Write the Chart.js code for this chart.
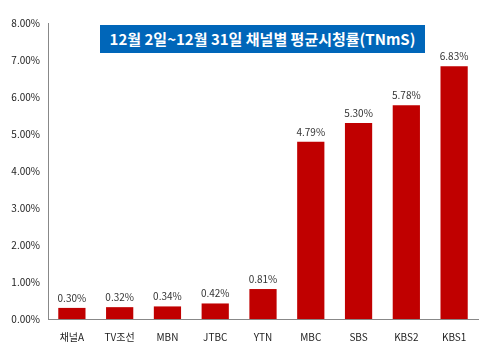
<!DOCTYPE html>
<html>
<head>
<meta charset="utf-8">
<script src="https://cdn.jsdelivr.net/npm/chart.js@4"></script>
<style>
  body { margin: 0; background: #fff; }
  #wrap { position: relative; width: 491px; height: 354px; }
  #title {
    position: absolute; left: 100px; top: 25px; width: 325px; height: 28px;
    background: #0066b9; color: #fff; font: bold 15px "Noto Sans CJK KR", sans-serif;
    line-height: 28px; text-align: center; box-sizing: border-box;
  }
</style>
</head>
<body>
<div id="wrap">
  <canvas id="chart" width="491" height="354"></canvas>
  <div id="title">12월 2일~12월 31일 채널별 평균시청률(TNmS)</div>
</div>
<script>
const channels = ["채널A", "TV조선", "MBN", "JTBC", "YTN", "MBC", "SBS", "KBS2", "KBS1"];
const ratings = [0.30, 0.32, 0.34, 0.42, 0.81, 4.79, 5.30, 5.78, 6.83];

const fontFam = '"Noto Sans CJK KR", "DejaVu Sans", sans-serif';

// values above the bars
const barLabels = {
    id: 'barLabels',
    afterDatasetsDraw(chart) {
        const ctx = chart.ctx;
        const meta = chart.getDatasetMeta(0);
        ctx.save();
        ctx.font = '10px ' + fontFam;
        ctx.fillStyle = '#333';
        ctx.textAlign = 'center';
        ctx.textBaseline = 'bottom';
        meta.data.forEach((bar, i) => {
            ctx.fillText(ratings[i].toFixed(2) + '%', bar.x, bar.y - 5);
        });
        ctx.restore();
    }
};

const ctx = document.getElementById('chart').getContext('2d');
new Chart(ctx, {
    type: 'bar',
    data: {
        labels: channels,
        datasets: [{
            data: ratings,
            backgroundColor: '#c00000',
            categoryPercentage: 1,
            barPercentage: 0.57
        }]
    },
    options: {
        responsive: false,
        animation: false,
        layout: { padding: { left: 0, right: 13, top: 23, bottom: 0 } },
        plugins: { legend: { display: false }, tooltip: { enabled: false } },
        scales: {
            x: {
                grid: { display: false, drawTicks: false },
                border: { color: '#888', width: 1 },
                ticks: { color: '#222', font: { size: 10, family: fontFam }, padding: 12 },
                afterFit(s) { s.height = 35; }
            },
            y: {
                min: 0, max: 8,
                grid: { display: false, drawTicks: false },
                border: { color: '#888', width: 1 },
                ticks: {
                    stepSize: 1, color: '#222', padding: 8,
                    font: { size: 10, family: fontFam },
                    callback: v => v.toFixed(2) + '%'
                },
                afterFit(s) { s.width = 48; }
            }
        }
    },
    plugins: [barLabels]
});
</script>
</body>
</html>
